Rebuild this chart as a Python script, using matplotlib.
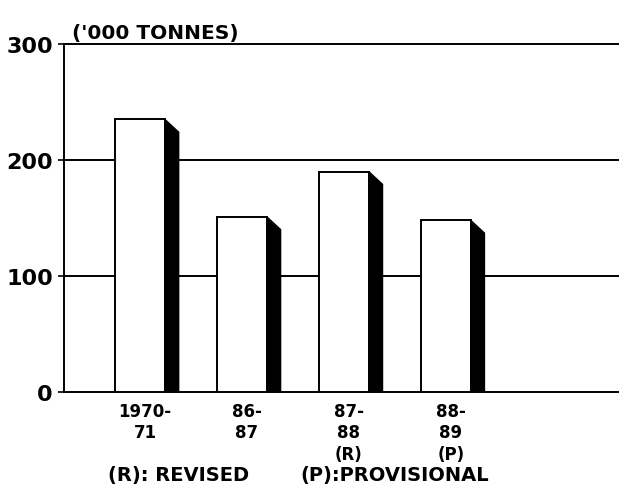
import matplotlib
matplotlib.use("Agg")
import matplotlib.pyplot as plt
from matplotlib.patches import Polygon

categories = ["1970-\n71", "86-\n87", "87-\n88\n(R)", "88-\n89\n(P)"]
values = [235, 151, 190, 148]
yticks = [0, 100, 200, 300]
unit_label = "('000 TONNES)"
note_r = "(R): REVISED"
note_p = "(P):PROVISIONAL"

fig = plt.figure(figsize=(6.19, 4.89), dpi=100)
ax = fig.add_axes([64/619, (489-393)/489, 1 - 64/619, (393-45)/489])

pos = list(range(len(values)))
bw = 0.49
sw = 0.135
slant = 11
ax.bar(pos, values, width=bw, color="white", edgecolor="black", linewidth=1.4, zorder=3)
for x, v in zip(pos, values):
    xr = x + bw/2
    poly = Polygon([(xr, v), (xr + sw, v - slant), (xr + sw, 0), (xr, 0)],
                   closed=True, facecolor="black", edgecolor="black", linewidth=1, zorder=3)
    ax.add_patch(poly)

ax.set_xlim(-0.745, 4.70)
ax.set_ylim(0, 300)
ax.set_yticks(yticks)
ax.set_yticklabels([str(t) for t in yticks], fontsize=16, fontweight="bold")
for t in [100, 200]:
    ax.axhline(t, color="black", linewidth=1.4, zorder=1)
ax.spines["right"].set_visible(False)
for s in ["left", "top", "bottom"]:
    ax.spines[s].set_linewidth(1.4)
ax.tick_params(axis="y", length=4, width=1.2, pad=4)
ax.set_xticks([p + 0.05 for p in pos])
ax.set_xticklabels(categories, fontsize=12, fontweight="bold", linespacing=1.25)
ax.tick_params(axis="x", length=0, pad=7)

fig.text(72/619, 1 - 33/489, unit_label, fontsize=14.5, fontweight="bold", va="center", ha="left")
fig.text(108/619, 1 - 476/489, note_r, fontsize=14, fontweight="bold", va="center", ha="left")
fig.text(300/619, 1 - 476/489, note_p, fontsize=14, fontweight="bold", va="center", ha="left")

fig.savefig("out.png", dpi=100)
